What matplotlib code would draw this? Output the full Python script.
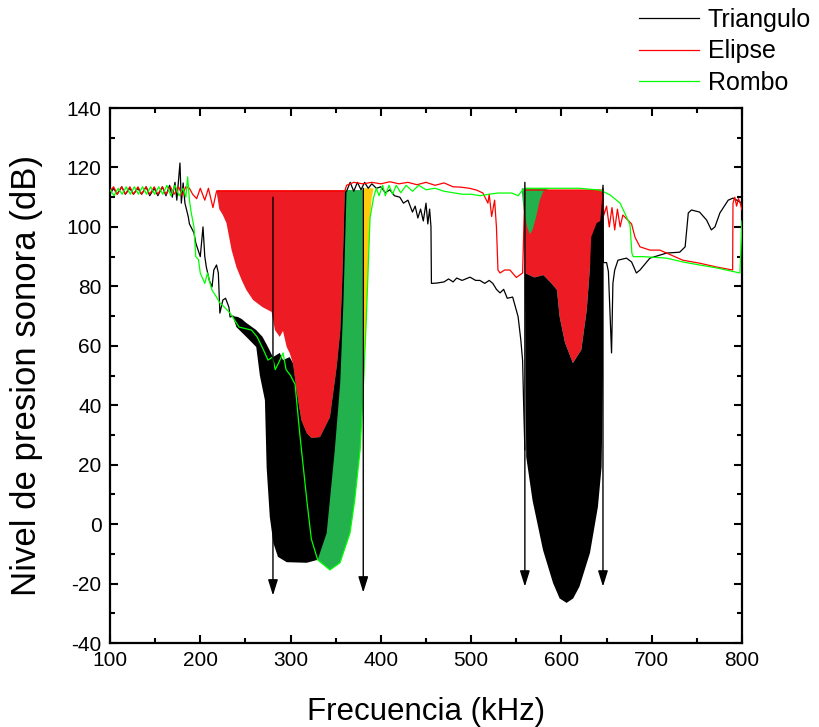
import numpy as np
import matplotlib
matplotlib.use("Agg")
import matplotlib.pyplot as plt
from matplotlib.ticker import MultipleLocator

plt.rcParams['font.family'] = ['Liberation Sans', 'DejaVu Sans']
plt.rcParams['axes.unicode_minus'] = False

nan = np.nan

# ---- curves (kHz, dB); (nan, nan) breaks the line ----
triangulo = [(100, 111), (104, 113), (108, 111), (113, 113.5), (117, 111), (122, 113), (126, 111),
             (131, 113), (135, 111), (140, 113.5), (144, 110.5), (149, 113), (153, 110.5),
             (158, 113.5), (162, 110.5), (166, 114), (169, 110), (172, 115), (174, 109), (176, 116),
             (177.5, 121.5), (179, 108), (181, 114.8), (183, 108), (186.7, 103.4), (188, 101),
             (193, 98), (195, 94.6), (200, 90), (203, 100), (205, 90), (206.7, 86.5), (210, 82),
             (213, 79.8), (215, 85.5), (218, 87.2), (220, 84.5), (221.7, 71), (225, 75.4), (228, 76),
             (231.7, 73), (233, 69.7), (236, 70), (nan, nan),
             (362, 112), (366, 115), (370, 112), (374, 115), (378, 112.5), (382, 115), (386, 113),
             (390, 114.5), (395, 113), (400, 113.5), (405, 111.5), (410, 112.5), (415, 110.5),
             (421, 110), (425, 108), (430, 109), (435, 105), (438, 107), (441, 103), (444, 106),
             (447, 102), (450, 108), (452, 101), (454, 106), (455.5, 100), (456, 81), (461.8, 81.1),
             (470, 81.5), (475, 82.5), (480, 81.5), (484, 82.8), (490, 82), (498.7, 83.1), (505, 82),
             (509.7, 82), (515, 81), (520, 82), (524, 81), (528, 79), (532, 77.8), (536, 79),
             (540, 76), (546, 76.4), (552, 69.8), (555, 62), (557, 55), (558, 42), (559.5, 25),
             (nan, nan),
             (646, 113), (646.5, 88), (650, 88), (652, 85), (655.5, 57.6), (657, 81), (659, 85.5),
             (662.6, 88.8), (672, 89.5), (677.7, 88.2), (683, 84.5), (687, 85.5), (698, 89.5),
             (716.5, 91.2), (731, 91.5), (737, 93.3), (740.5, 104.7), (744, 105.7), (753, 105),
             (760.8, 102.3), (766, 99), (770, 100), (775.5, 104.7), (784.7, 109), (790, 109.7),
             (797.7, 108.4), (800, 108)]

elipse = [(100, 112), (104, 113.5), (108, 111), (113, 113.5), (117, 111), (122, 113.5), (126, 111),
          (131, 113.5), (135, 111), (140, 113.5), (144, 111), (149, 113.5), (153, 111), (158, 113.5),
          (162, 111), (167, 113.5), (171, 111), (176, 113.5), (180, 110.5), (184, 113.5), (188, 113),
          (191.5, 111), (196, 109.5), (200, 113), (205, 109), (209, 113), (214, 106.5), (218, 112),
          (360, 112), (362, 114), (370, 115), (380, 114.5), (390, 115), (400, 114.5), (410, 115.2),
          (420, 114.5), (430, 115), (440, 114.2), (450, 115), (460, 114), (470, 114.8), (480, 113.5),
          (488, 113.4), (498, 113), (506, 112.4), (513, 111.4), (518.6, 108), (520, 111),
          (522.7, 103.5), (526, 109), (528, 100), (529.7, 85.5), (532, 84.5), (537, 85.5),
          (543, 85.5), (550, 83), (557, 84.5), (559.5, 112.4), (645, 112.4), (647, 104), (650, 107),
          (653, 100), (656, 106.5), (659, 99), (662, 106), (665, 100), (668, 104), (670, 103.4),
          (677.7, 101), (681.4, 96.6), (687, 93.3), (698, 92.2), (709, 92.2), (716.5, 91.2),
          (734.5, 88.8), (753, 87.8), (772, 86.5), (789.6, 85.5), (790, 108), (792, 110), (794, 107),
          (796, 109.5), (798, 108), (800, 105.7)]

rombo = [(100, 112.5), (104.5, 110.5), (109, 113), (113.5, 111), (118, 113.5), (122.5, 111),
         (127, 113.5), (131.5, 111), (136, 113.5), (140.5, 111), (145, 113.5), (149.5, 111),
         (154, 113.5), (158.5, 111), (163, 114), (167.5, 110.5), (172, 114), (176.5, 110.5),
         (181, 113), (184, 110), (186, 116.8), (188, 109), (190, 104.7), (193, 100), (195, 90),
         (198, 89), (200, 84.5), (205, 81), (208, 84.5), (211.7, 80), (213, 78.8), (218, 76.4),
         (221.7, 74.4), (226.7, 73), (233, 71), (243, 66.3), (256.7, 65.3), (263, 63), (270, 58.6),
         (275, 55.2), (280, 56.2), (283, 52), (286.7, 54.2), (291.7, 57.6), (295, 52), (300, 50),
         (305, 47), (310, 31), (318, 8), (323, -5), (330, -12), (343.6, -15.4), (354.7, -13),
         (365.8, -3), (371, 8), (377, 25), (380, 42), (384, 70), (388, 103), (392, 110), (395, 113),
         (398, 110.5), (402, 114), (405, 110.5), (409, 114), (413, 111), (417, 114), (422, 111.5),
         (428, 114), (435, 112), (442, 114), (450, 112.5), (460, 113), (470, 112), (480, 111.5),
         (490, 111), (500, 111), (510, 110.5), (520, 111), (530, 111.4), (545, 111.4),
         (552, 110.5), (556, 112), (560, 113), (590, 113), (620, 113), (642.6, 112.4),
         (653.7, 110.8), (665, 108), (672, 103.4), (676, 100.6), (678, 91.2), (679.5, 90),
         (690.7, 90), (716.5, 89.5), (734.5, 88.2), (753, 87.2), (772, 86.2), (797.7, 84.5),
         (800, 102)]

# ---- shaded band-gap regions: lower / upper edges ----
band_top = 112.4

gap1_green_lower = [(303, 52), (305, 47), (310, 31), (318, 8), (323, -5), (330, -12), (343.6, -15.4),
                    (354.7, -13), (365.8, -3), (371, 8), (377, 25), (380, 42)]
gap1_yellow_lower = [(380, 42), (381, 45), (384, 70), (386, 88), (388, 103), (390, 110), (392, 113)]
gap1_black_lower = [(236, 70), (240, 66.3), (251, 63), (262, 59.6), (266, 50), (271.6, 41.7),
                    (273.5, 19), (277, 2.4), (281, -6.4), (286, -11), (295.7, -12.8), (318, -13),
                    (330, -12), (340, -3), (349, 25), (355, 47.5), (358.6, 75), (362, 112)]
gap1_black_upper = [(236, 70), (241.7, 69.7), (246, 69), (251, 67.7), (262, 65.3), (269, 63),
                    (275, 59.6), (280.5, 56.2), (288, 57.6), (291.6, 55.2), (299, 56.2), (303, 54),
                    (306.7, 45), (312, 35), (318, 30.6), (323, 29), (332.6, 29.3), (343.6, 36),
                    (351, 52.8), (355, 65), (357, 80), (358.5, 95), (360, 112), (362, 112)]
gap1_red_lower = [(218, 112), (221, 106), (225, 104), (229, 101.3), (234.7, 92.2), (240, 86.5),
                  (246, 82), (251, 78.8), (258.5, 75.4), (269, 73), (279, 71.4), (282.7, 65.3),
                  (288, 63), (291.6, 65), (295.7, 59.6), (299, 57.6), (302.7, 54), (306.7, 45),
                  (312, 35), (318, 30.6), (323, 29), (332.6, 29.3), (343.6, 36), (351, 52.8),
                  (355, 65), (357, 80), (358.5, 95), (360, 112)]

gap2_red_lower = [(559.5, 84.5), (570, 83), (580, 83.8), (589, 81), (595, 78.8), (598, 69.8),
                  (604, 61), (612.7, 54.2), (622, 58.6), (628, 72), (631.6, 86.5), (635, 95), (646, 95)]
gap2_black_lower = [(559.5, 84.5), (560.5, 40), (561, 22.6), (568, 8), (579.6, -8.7), (590.7, -19.8),
                    (598, -25), (605.7, -26.5), (613, -25), (620, -21), (631.6, -9.7), (640.4, 5.8),
                    (644.5, 19.3), (646, 50), (646, 113)]
gap2_black_upper = [(559.5, 84.5), (570, 83), (580, 83.8), (589, 81), (595, 78.8), (598, 69.8),
                    (604, 61), (612.7, 54.2), (622, 58.6), (628, 72), (631.6, 86.5), (633, 96.6),
                    (639, 101.3), (643, 102), (646, 113)]
gap2_green_lower = [(556, 112), (558, 106), (562, 100), (565, 97.5), (568, 99), (572, 103.4),
                    (576, 109), (580, 112), (587, 113)]

# gap edges marked with arrows
arrows_x = [280.5, 380.5, 559.5, 646]
arrows_top = [110, 113, 115, 114]
arrows_bottom = [-24, -23, -21, -21]


def xy(pts):
    a = np.array(pts, dtype=float)
    return a[:, 0], a[:, 1]


def region(ax, lower, upper, color, z):
    lx, ly = xy(lower)
    if np.isscalar(upper):
        ux, uy = np.array([lx[-1], lx[0]]), np.array([upper, upper])
    else:
        ux, uy = xy(upper)
        ux, uy = ux[::-1], uy[::-1]
    ax.fill(np.r_[lx, ux], np.r_[ly, uy], color=color, lw=0, zorder=z)


RED_FILL = '#ED1C24'
GREEN_FILL = '#22B14C'
YELLOW_FILL = '#FFC90E'

fig = plt.figure(figsize=(8.19, 7.27), dpi=100)
ax = fig.add_axes([0.1343, 0.1155, 0.7717, 0.7359])

# first gap
region(ax, gap1_green_lower, band_top, GREEN_FILL, 1)
region(ax, gap1_yellow_lower, 113, YELLOW_FILL, 1)
region(ax, gap1_black_lower, gap1_black_upper, 'black', 2)
region(ax, gap1_red_lower, band_top, RED_FILL, 3)
# second gap
region(ax, gap2_red_lower, band_top, RED_FILL, 1)
region(ax, gap2_black_lower, gap2_black_upper, 'black', 2)
region(ax, gap2_green_lower, 113, GREEN_FILL, 3)

tx, ty = xy(triangulo)
ex, ey = xy(elipse)
rx, ry = xy(rombo)
ax.plot(tx, ty, color='black', lw=0.9, label='Triangulo', zorder=5)
ax.plot(ex, ey, color='#FF0000', lw=0.9, label='Elipse', zorder=5)
ax.plot(rx, ry, color='#00FF00', lw=0.9, label='Rombo', zorder=5)

for x, top, bot in zip(arrows_x, arrows_top, arrows_bottom):
    ax.annotate('', xy=(x, bot), xytext=(x, top),
                arrowprops=dict(arrowstyle='-|>,head_length=0.8,head_width=0.25',
                                color='black', lw=1.0, mutation_scale=12, shrinkA=0, shrinkB=0),
                zorder=6)

ax.set_xlim(100, 800)
ax.set_ylim(-40, 140)
ax.xaxis.set_major_locator(MultipleLocator(100))
ax.xaxis.set_minor_locator(MultipleLocator(50))
ax.yaxis.set_major_locator(MultipleLocator(20))
ax.yaxis.set_minor_locator(MultipleLocator(10))
ax.tick_params(which='both', direction='in', top=True, right=True, width=1.5, labelsize=15, pad=6)
ax.tick_params(which='major', length=6)
ax.tick_params(which='minor', length=3.5)
for s in ax.spines.values():
    s.set_linewidth(1.6)

ax.set_xlabel('Frecuencia (kHz)', fontsize=22.5)
ax.set_ylabel('Nivel de presion sonora (dB)', fontsize=25)
ax.xaxis.set_label_coords(0.5, -0.1)
ax.yaxis.set_label_coords(-0.106, 0.5)

fig.legend(loc='upper left', bbox_to_anchor=(0.777, 0.993), frameon=False, fontsize=18,
           handlelength=2.4, handletextpad=0.35, labelspacing=0.31, borderpad=0.1,
           borderaxespad=0)

fig.savefig('out.png', dpi=100)
